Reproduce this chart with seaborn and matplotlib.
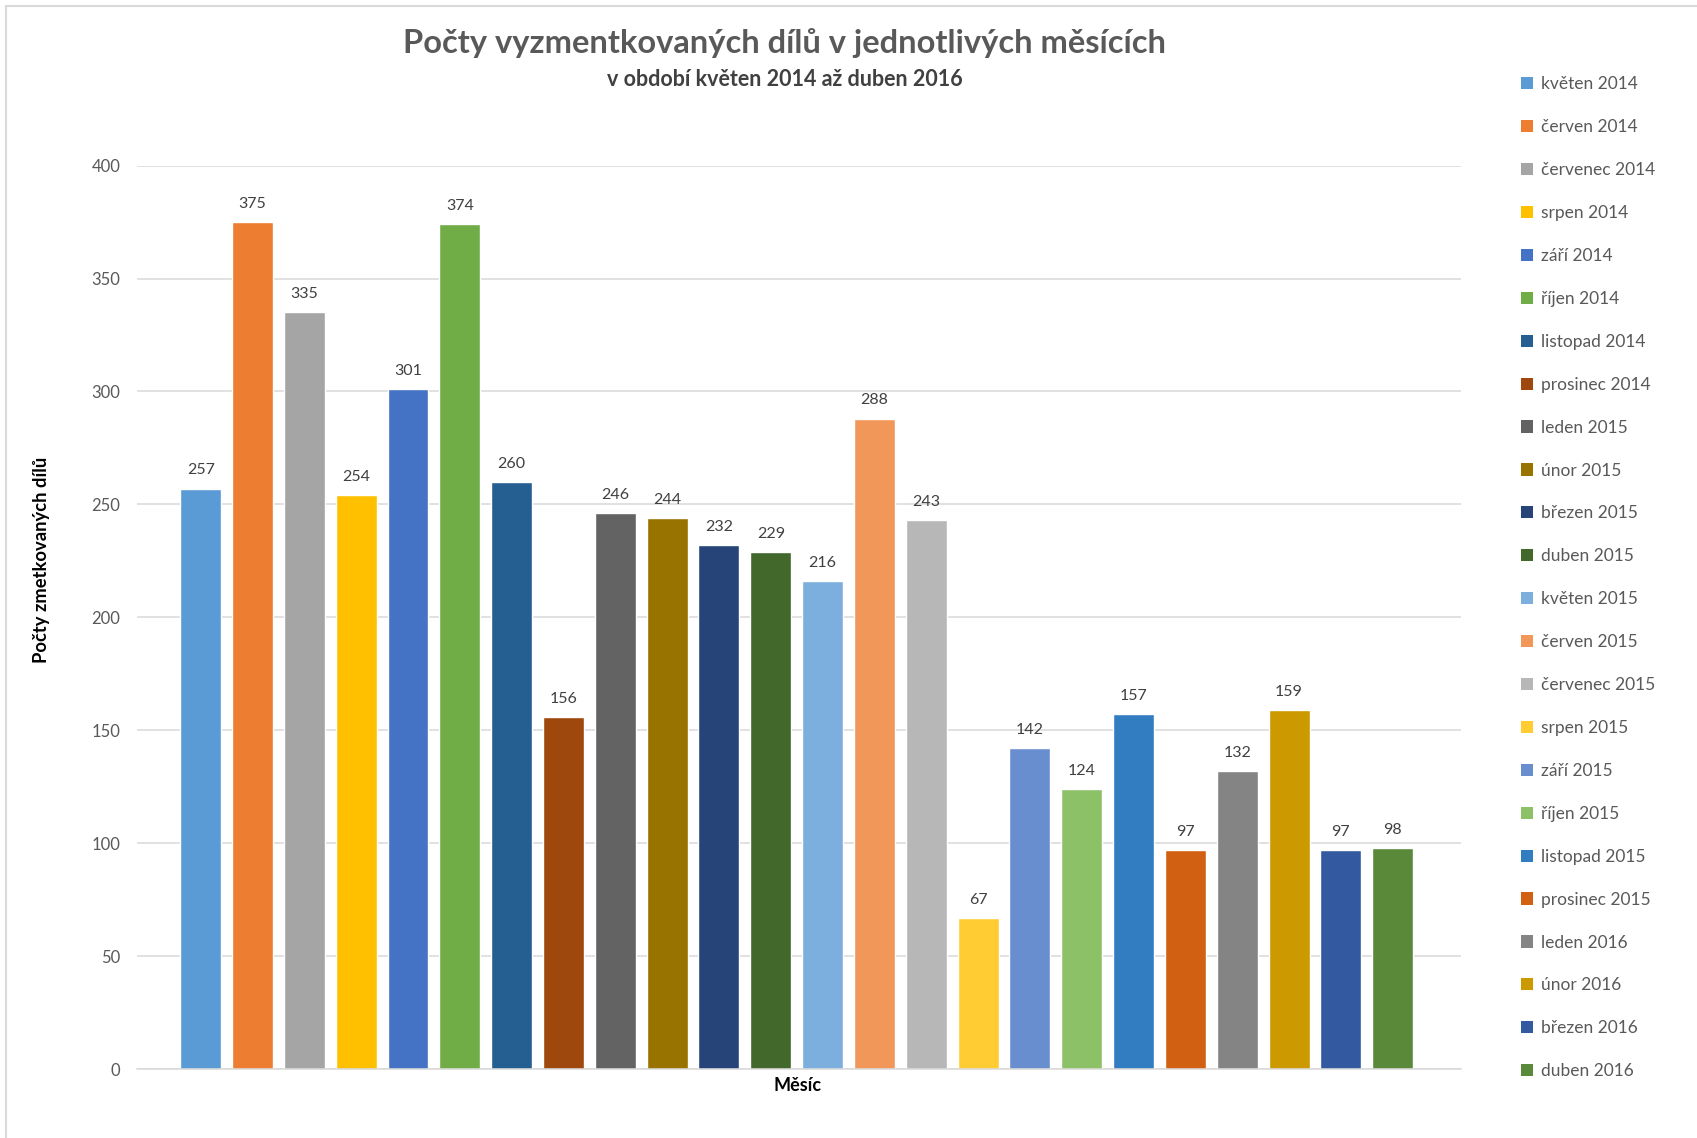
import matplotlib
matplotlib.use("Agg")
import matplotlib.pyplot as plt
from matplotlib.lines import Line2D
from matplotlib.patches import Patch
import seaborn as sns
import pandas as pd

months = [
    "květen 2014", "červen 2014", "červenec 2014", "srpen 2014", "září 2014",
    "říjen 2014", "listopad 2014", "prosinec 2014", "leden 2015", "únor 2015",
    "březen 2015", "duben 2015", "květen 2015", "červen 2015", "červenec 2015",
    "srpen 2015", "září 2015", "říjen 2015", "listopad 2015", "prosinec 2015",
    "leden 2016", "únor 2016", "březen 2016", "duben 2016",
]
counts = [257, 375, 335, 254, 301, 374, 260, 156, 246, 244, 232, 229,
          216, 288, 243, 67, 142, 124, 157, 97, 132, 159, 97, 98]
colors = [
    "#5B9BD5", "#ED7D31", "#A5A5A5", "#FFC000", "#4472C4", "#70AD47",
    "#255E91", "#9E480E", "#636363", "#997300", "#264478", "#43682B",
    "#7CAFDD", "#F1975A", "#B7B7B7", "#FFCD33", "#698ED0", "#8CC168",
    "#327DC2", "#D26012", "#848484", "#CC9A00", "#335AA1", "#5A8A39",
]
y_ticks = [0, 50, 100, 150, 200, 250, 300, 350, 400]

title = "Počty vyzmentkovaných dílů v jednotlivých měsících"
subtitle = "v období květen 2014 až duben 2016"
y_label = "Počty zmetkovaných dílů"
x_label = "Měsíc"

sns.set_theme(style="white")
plt.rcParams["font.family"] = ["Lato", "DejaVu Sans"]

df = pd.DataFrame({"month": months, "count": counts})

fig = plt.figure(figsize=(16.97, 11.38), dpi=100)
ax = fig.add_axes([0.0807, 0.0606, 0.7803, 0.7939])

sns.barplot(data=df, x="month", y="count", hue="month", order=months,
            hue_order=months, palette=colors, dodge=False, width=0.79,
            saturation=1, legend=False, ax=ax)

ax.set_xlim(-1.23, 24.32)
ax.set_ylim(0, 400)
ax.set_yticks(y_ticks)
ax.set_yticklabels([str(t) for t in y_ticks], color="#595959", fontsize=12)
ax.tick_params(axis="y", length=0, pad=12)
ax.set_xticks([])
ax.set_xlabel("")
ax.set_ylabel("")
ax.grid(axis="y", color="#D9D9D9", linewidth=1.1)
ax.set_axisbelow(True)
for side in ["top", "right", "left"]:
    ax.spines[side].set_visible(False)
ax.spines["bottom"].set_color("#D9D9D9")
ax.spines["bottom"].set_linewidth(1.1)

for container in ax.containers:
    ax.bar_label(container, fmt="%d", padding=8, color="#404040", fontsize=11.5)

fig.text(0.4625, 0.962, title, ha="center", va="center",
         fontsize=23.5, fontweight="bold", color="#595959")
fig.text(0.4625, 0.930, subtitle, ha="center", va="center",
         fontsize=15.5, fontweight="bold", color="#404040")
fig.text(0.0245, 0.508, y_label, ha="center", va="center", rotation=90,
         fontsize=13.2, fontweight="bold", color="#000000")
fig.text(0.4697, 0.046, x_label, ha="center", va="center",
         fontsize=13, fontweight="bold", color="#000000")

handles = [Patch(facecolor=c, edgecolor="none") for c in colors]
leg = fig.legend(handles, months, loc="upper left",
                 bbox_to_anchor=(0.892, 0.939), frameon=False,
                 fontsize=12.5, labelcolor="#595959",
                 handlelength=0.7, handleheight=0.7, handletextpad=0.45,
                 labelspacing=1.55, borderaxespad=0)

# chart border
fig.add_artist(Line2D([0.0035, 1.0], [0.9947, 0.9947], transform=fig.transFigure,
                      color="#D9D9D9", linewidth=1.5))
fig.add_artist(Line2D([0.0035, 0.0035], [0.0, 0.9947], transform=fig.transFigure,
                      color="#D9D9D9", linewidth=1.5))

fig.savefig("out.png", dpi=100, facecolor="white")
